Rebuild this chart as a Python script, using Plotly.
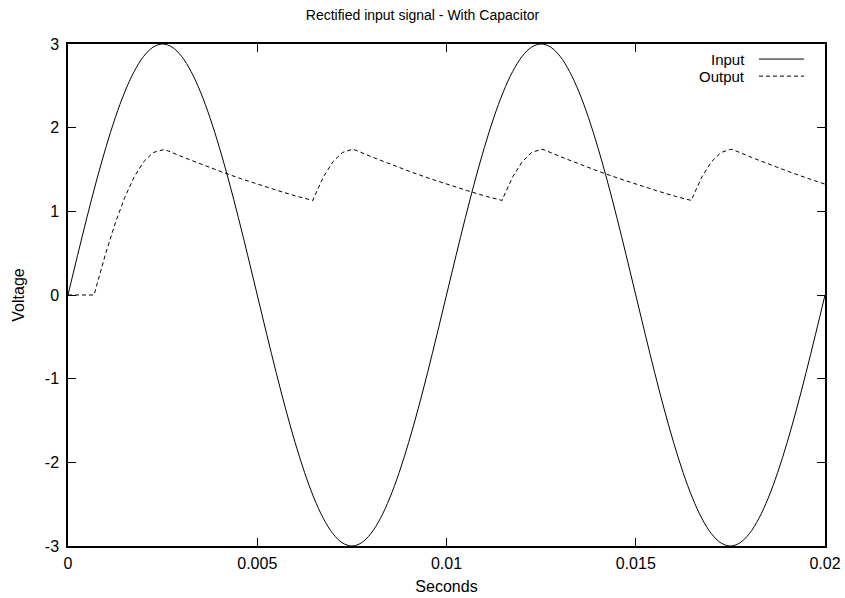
import plotly.graph_objects as go

title = "Rectified input signal - With Capacitor"
x_label = "Seconds"
y_label = "Voltage"

# Input signal, sampled every 0.25 ms
t_in = [0, 0.00025, 0.0005, 0.00075, 0.001, 0.00125, 0.0015, 0.00175, 0.002, 0.00225,
        0.0025, 0.00275, 0.003, 0.00325, 0.0035, 0.00375, 0.004, 0.00425, 0.0045, 0.00475,
        0.005, 0.00525, 0.0055, 0.00575, 0.006, 0.00625, 0.0065, 0.00675, 0.007, 0.00725,
        0.0075, 0.00775, 0.008, 0.00825, 0.0085, 0.00875, 0.009, 0.00925, 0.0095, 0.00975,
        0.01, 0.01025, 0.0105, 0.01075, 0.011, 0.01125, 0.0115, 0.01175, 0.012, 0.01225,
        0.0125, 0.01275, 0.013, 0.01325, 0.0135, 0.01375, 0.014, 0.01425, 0.0145, 0.01475,
        0.015, 0.01525, 0.0155, 0.01575, 0.016, 0.01625, 0.0165, 0.01675, 0.017, 0.01725,
        0.0175, 0.01775, 0.018, 0.01825, 0.0185, 0.01875, 0.019, 0.01925, 0.0195, 0.01975,
        0.02]
v_in = [0, 0.469, 0.927, 1.362, 1.763, 2.121, 2.427, 2.673, 2.853, 2.963,
        3.0, 2.963, 2.853, 2.673, 2.427, 2.121, 1.763, 1.362, 0.927, 0.469,
        0, -0.469, -0.927, -1.362, -1.763, -2.121, -2.427, -2.673, -2.853, -2.963,
        -3.0, -2.963, -2.853, -2.673, -2.427, -2.121, -1.763, -1.362, -0.927, -0.469,
        0, 0.469, 0.927, 1.362, 1.763, 2.121, 2.427, 2.673, 2.853, 2.963,
        3.0, 2.963, 2.853, 2.673, 2.427, 2.121, 1.763, 1.362, 0.927, 0.469,
        0, -0.469, -0.927, -1.362, -1.763, -2.121, -2.427, -2.673, -2.853, -2.963,
        -3.0, -2.963, -2.853, -2.673, -2.427, -2.121, -1.763, -1.362, -0.927, -0.469,
        0]

# Output (rectified + capacitor) signal
t_out = [0, 0.00069, 0.00075, 0.001, 0.00125, 0.0015, 0.00175, 0.002, 0.00225, 0.0025, 0.00255,
         0.00305, 0.00355, 0.00405, 0.00455, 0.00505, 0.00555, 0.00605, 0.00647,
         0.0065, 0.00675, 0.007, 0.00725, 0.0075, 0.00755,
         0.00805, 0.00855, 0.00905, 0.00955, 0.01005, 0.01055, 0.01105, 0.01147,
         0.0115, 0.01175, 0.012, 0.01225, 0.0125, 0.01255,
         0.01305, 0.01355, 0.01405, 0.01455, 0.01505, 0.01555, 0.01605, 0.01647,
         0.0165, 0.01675, 0.017, 0.01725, 0.0175, 0.01755,
         0.01805, 0.01855, 0.01905, 0.01955, 0.02]
v_out = [0, 0, 0.102, 0.503, 0.861, 1.167, 1.413, 1.593, 1.703, 1.74, 1.74,
         1.646, 1.557, 1.473, 1.393, 1.318, 1.247, 1.179, 1.13,
         1.167, 1.413, 1.593, 1.703, 1.74, 1.74,
         1.646, 1.557, 1.473, 1.393, 1.318, 1.247, 1.179, 1.13,
         1.167, 1.413, 1.593, 1.703, 1.74, 1.74,
         1.646, 1.557, 1.473, 1.393, 1.318, 1.247, 1.179, 1.13,
         1.167, 1.413, 1.593, 1.703, 1.74, 1.74,
         1.646, 1.557, 1.473, 1.393, 1.325]

x_ticks = [0, 0.005, 0.01, 0.015, 0.02]
x_tick_labels = ["0", "0.005", "0.01", "0.015", "0.02"]
y_ticks = [-3, -2, -1, 0, 1, 2, 3]
y_tick_labels = ["-3", "-2", "-1", "0", "1", "2", "3"]
series_names = ["Input", "Output"]

FONT = "Liberation Sans, Arial, sans-serif"
FS = 16

fig = go.Figure()
fig.add_trace(go.Scatter(x=t_in, y=v_in, mode="lines", name=series_names[0],
                         line=dict(color="black", width=1, shape="spline", smoothing=1),
                         showlegend=False))
fig.add_trace(go.Scatter(x=t_out, y=v_out, mode="lines", name=series_names[1],
                         line=dict(color="black", width=1, dash="4px,3px"),
                         showlegend=False))

# gnuplot-style legend: text right-aligned, sample line to the right
legend_rows = [(0.970, "solid"), (0.936, "4px,3px")]
for name, (yy, dash) in zip(series_names, legend_rows):
    fig.add_annotation(x=0.897, y=yy, xref="paper", yref="paper", text=name,
                       showarrow=False, xanchor="right", yanchor="middle",
                       font=dict(family=FONT, size=15, color="black"))
    fig.add_shape(type="line", xref="paper", yref="paper", x0=0.9128, x1=0.9723,
                  y0=yy, y1=yy, line=dict(color="black", width=1, dash=dash))

axis_common = dict(showline=True, linecolor="black", linewidth=1.5, mirror="ticks",
                   ticks="inside", ticklen=8, tickwidth=1, tickcolor="black",
                   showgrid=False, zeroline=False, automargin=False,
                   tickfont=dict(family=FONT, size=FS, color="black"))

fig.update_layout(
    width=845, height=598,
    margin=dict(l=68, r=20, t=44, b=52),
    paper_bgcolor="white", plot_bgcolor="white",
    title=dict(text=title, x=0.5, xanchor="center", y=1 - 15 / 598, yanchor="middle",
               font=dict(family=FONT, size=14, color="black")),
    xaxis=dict(range=[0, 0.02], tickvals=x_ticks, ticktext=x_tick_labels,
               ticklabelstandoff=2,
               title=dict(text=x_label, standoff=10, font=dict(family=FONT, size=FS, color="black")),
               **axis_common),
    yaxis=dict(range=[-3, 3], tickvals=y_ticks, ticktext=y_tick_labels,
               ticklabelstandoff=4,
               title=dict(text=y_label, standoff=16, font=dict(family=FONT, size=FS, color="black")),
               **axis_common),
)

fig.write_html("out.html")
